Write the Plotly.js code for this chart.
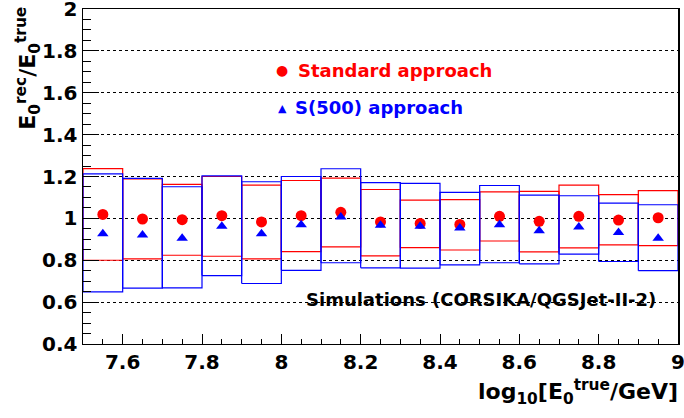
<!DOCTYPE html>
<html>
<head>
<meta charset="utf-8">
<script src="https://cdn.plot.ly/plotly-3.0.1.min.js"></script>
<style>html,body{margin:0;padding:0;background:#fff;}#chart{width:684px;height:418px;}</style>
</head>
<body>
<div id="chart"></div>
<script>
// Bin edges in log10(E/GeV)
const binEdges = [7.5, 7.6, 7.7, 7.8, 7.9, 8.0, 8.1, 8.2, 8.3, 8.4, 8.5, 8.6, 8.7, 8.8, 8.9, 9.0];
const binCenters = [7.55, 7.65, 7.75, 7.85, 7.95, 8.05, 8.15, 8.25, 8.35, 8.45, 8.55, 8.65, 8.75, 8.85, 8.95];

// Standard approach
const stdMean = [1.019, 0.997, 0.994, 1.013, 0.983, 1.013, 1.029, 0.983, 0.976, 0.971, 1.010, 0.986, 1.010, 0.992, 1.003];
const stdUpper = [1.238, 1.189, 1.162, 1.200, 1.159, 1.181, 1.192, 1.138, 1.087, 1.090, 1.127, 1.129, 1.159, 1.113, 1.133];
const stdLower = [0.800, 0.807, 0.824, 0.819, 0.807, 0.841, 0.864, 0.821, 0.860, 0.849, 0.892, 0.840, 0.859, 0.873, 0.870];

// S(500) approach
const s500Mean = [0.927, 0.921, 0.905, 0.962, 0.927, 0.970, 1.007, 0.967, 0.962, 0.954, 0.970, 0.941, 0.959, 0.933, 0.905];
const s500Upper = [1.213, 1.191, 1.151, 1.203, 1.175, 1.200, 1.237, 1.171, 1.167, 1.124, 1.157, 1.111, 1.108, 1.073, 1.065];
const s500Lower = [0.649, 0.667, 0.668, 0.727, 0.689, 0.752, 0.788, 0.764, 0.762, 0.778, 0.788, 0.783, 0.829, 0.794, 0.750];

// Tick labels
const xTickVals = [7.6, 7.8, 8.0, 8.2, 8.4, 8.6, 8.8, 9.0];
const xTickText = ['7.6', '7.8', '8', '8.2', '8.4', '8.6', '8.8', '9'];
const yTickVals = [0.4, 0.6, 0.8, 1.0, 1.2, 1.4, 1.6, 1.8, 2.0];
const yTickText = ['0.4', '0.6', '0.8', '1', '1.2', '1.4', '1.6', '1.8', '2'];

function boxPath(lower, upper) {
  const xs = [], ys = [];
  for (let i = 0; i < lower.length; i++) {
    const lo = binEdges[i], hi = binEdges[i + 1];
    xs.push(lo, hi, hi, lo, lo, null);
    ys.push(lower[i], lower[i], upper[i], upper[i], lower[i], null);
  }
  return {x: xs, y: ys};
}

const FONT = 'DejaVu Sans, Liberation Sans, Arial, sans-serif';
const RED = '#ff0000', BLUE = '#0000ff';

const redBox = boxPath(stdLower, stdUpper);
const blueBox = boxPath(s500Lower, s500Upper);

const traces = [
  {x: redBox.x, y: redBox.y, type: 'scatter', mode: 'lines', line: {color: RED, width: 1.2}, connectgaps: false, hoverinfo: 'skip', showlegend: false},
  {x: blueBox.x, y: blueBox.y, type: 'scatter', mode: 'lines', line: {color: BLUE, width: 1.2}, connectgaps: false, hoverinfo: 'skip', showlegend: false},
  {x: binCenters, y: stdMean, type: 'scatter', mode: 'markers', marker: {symbol: 'circle', size: 11, color: RED}, name: 'Standard approach', showlegend: false},
  {x: binCenters, y: s500Mean, type: 'scatter', mode: 'markers', marker: {symbol: 'triangle-up', size: 10, color: BLUE}, name: 'S(500) approach', showlegend: false}
];

const layout = {
  width: 684, height: 418,
  margin: {l: 83, r: 6, t: 9, b: 74},
  paper_bgcolor: '#fff', plot_bgcolor: '#fff',
  showlegend: false,
  font: {family: FONT, color: '#000'},
  xaxis: {
    range: [7.5, 9.0], tickvals: xTickVals, ticktext: xTickText,
    ticks: 'inside', ticklen: 10, tickwidth: 1, tickcolor: '#000',
    minor: {dtick: 0.05, tick0: 7.5, ticks: 'inside', ticklen: 5, tickcolor: '#000', showgrid: false},
    showgrid: false, zeroline: false,
    showline: true, linecolor: '#000', linewidth: 1, mirror: true,
    ticklabeloverflow: 'allow',
    tickfont: {family: FONT, size: 20, weight: 'bold', color: '#000'}
  },
  yaxis: {
    range: [0.4, 2.0], tickvals: yTickVals, ticktext: yTickText,
    ticks: 'inside', ticklen: 16, tickwidth: 1, tickcolor: '#000',
    minor: {dtick: 0.05, tick0: 0.4, ticks: 'inside', ticklen: 8, tickcolor: '#000', showgrid: false},
    showgrid: true, gridcolor: '#000', griddash: 'dot', gridwidth: 1,
    zeroline: false,
    showline: true, linecolor: '#000', linewidth: 1.5, mirror: true,
    ticklabeloverflow: 'allow',
    tickfont: {family: FONT, size: 20, weight: 'bold', color: '#000'}
  },
  annotations: [
    {xref: 'paper', yref: 'paper', x: 1.004, y: -0.143, xanchor: 'right', yanchor: 'middle', showarrow: false,
     text: 'log<sub>10</sub>[E<sub>0</sub><sup>true</sup>/GeV]', font: {family: FONT, size: 22, weight: 'bold', color: '#000'}},
    {xref: 'paper', yref: 'paper', x: -0.092, y: 1.012, xanchor: 'center', yanchor: 'top', textangle: -90, showarrow: false,
     text: 'E<sub>0</sub><sup>rec</sup>/E<sub>0</sub><sup>true</sup>', font: {family: FONT, size: 22, weight: 'bold', color: '#000'}},
    {xref: 'paper', yref: 'paper', x: (282 - 83) / 595, y: (344 - 70) / 335, xanchor: 'center', yanchor: 'middle', showarrow: false,
     text: '●', font: {family: FONT, size: 14, color: RED}},
    {xref: 'paper', yref: 'paper', x: (296 - 83) / 595, y: (344 - 70) / 335, xanchor: 'left', yanchor: 'middle', showarrow: false,
     text: 'Standard approach', font: {family: FONT, size: 18, weight: 'bold', color: RED}},
    {xref: 'paper', yref: 'paper', x: (282 - 83) / 595, y: (344 - 108) / 335, xanchor: 'center', yanchor: 'middle', showarrow: false,
     text: '▲', font: {family: FONT, size: 11, color: BLUE}},
    {xref: 'paper', yref: 'paper', x: (293 - 83) / 595, y: (344 - 107) / 335, xanchor: 'left', yanchor: 'middle', showarrow: false,
     text: 'S(500) approach', font: {family: FONT, size: 18, weight: 'bold', color: BLUE}},
    {xref: 'paper', yref: 'paper', x: (304 - 83) / 595, y: (344 - 299) / 335, xanchor: 'left', yanchor: 'middle', showarrow: false,
     text: 'Simulations (CORSIKA/QGSJet-II-2)', font: {family: FONT, size: 18, weight: 'bold', color: '#000'}}
  ]
};

Plotly.newPlot('chart', traces, layout, {staticPlot: true, displayModeBar: false});
</script>
</body>
</html>
